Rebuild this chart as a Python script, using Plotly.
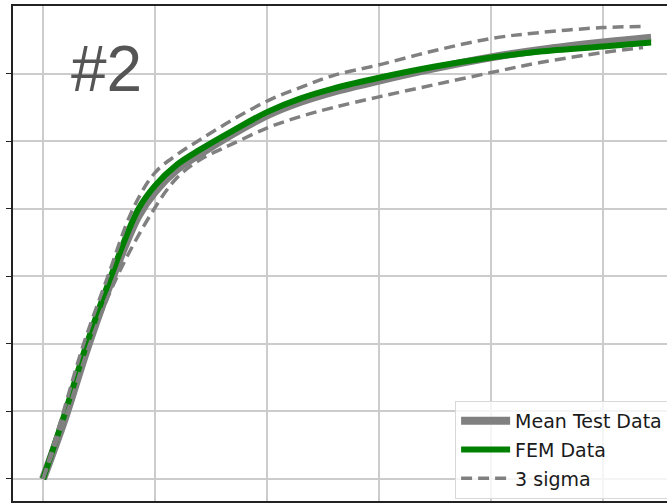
import plotly.graph_objects as go

# FEM data
fem_x = [0, 0.196, 0.384, 0.598, 0.848, 1.0, 1.196, 1.402, 1.696, 2.009, 2.295, 2.589, 3.009, 3.5, 4.0, 4.438, 5.0, 5.429]
fem_y = [0, 0.978, 1.970, 2.963, 3.985, 4.341, 4.652, 4.874, 5.156, 5.437, 5.630, 5.778, 5.941, 6.104, 6.237, 6.326, 6.400, 6.459]

# Mean test data
mean_x = [0, 0.196, 0.384, 0.598, 0.848, 1.0, 1.196, 1.402, 1.696, 2.009, 2.295, 2.589, 3.009, 3.5, 4.0, 4.438, 5.0, 5.429]
mean_y = [0, 0.90, 1.88, 2.88, 3.88, 4.25, 4.58, 4.81, 5.11, 5.39, 5.58, 5.73, 5.90, 6.08, 6.24, 6.35, 6.46, 6.53]

# 3 sigma bounds
up_x = [0, 0.179, 0.357, 0.571, 0.804, 1.0, 1.196, 1.402, 1.696, 2.009, 2.295, 2.589, 3.009, 3.5, 4.0, 4.438, 5.0, 5.357]
up_y = [0, 0.978, 1.970, 2.963, 4.0, 4.533, 4.80, 5.022, 5.319, 5.600, 5.793, 5.970, 6.133, 6.341, 6.519, 6.607, 6.681, 6.696]
lo_x = [0, 0.214, 0.411, 0.661, 0.982, 1.196, 1.402, 1.58, 1.696, 2.009, 2.295, 2.589, 3.009, 3.5, 4.0, 4.438, 5.0, 5.357]
lo_y = [0, 0.978, 1.970, 2.993, 3.970, 4.459, 4.726, 4.874, 4.963, 5.200, 5.363, 5.496, 5.659, 5.837, 6.015, 6.163, 6.311, 6.385]

x_ticks = [0, 1, 2, 3, 4, 5]
y_ticks = [0, 1, 2, 3, 4, 5, 6]

fig = go.Figure()
fig.add_trace(go.Scatter(x=mean_x, y=mean_y, mode="lines", name="Mean Test Data", legendgroup="a",
                         line=dict(color="#808080", width=8, shape="spline", smoothing=1.0)))
fig.add_trace(go.Scatter(x=fem_x, y=fem_y, mode="lines", name="FEM Data", legendgroup="b",
                         line=dict(color="#008000", width=6, shape="spline", smoothing=1.0)))
fig.add_trace(go.Scatter(x=up_x, y=up_y, mode="lines", name="3 sigma", legendgroup="c",
                         line=dict(color="#808080", width=3.5, dash="11px,6px", shape="spline", smoothing=1.0)))
fig.add_trace(go.Scatter(x=lo_x, y=lo_y, mode="lines", name="3 sigma", showlegend=False, legendgroup="c",
                         line=dict(color="#808080", width=3.5, dash="11px,6px", shape="spline", smoothing=1.0)))

fig.add_annotation(text="#2", x=0.57, y=6.07, xref="x", yref="y", showarrow=False,
                   font=dict(family="Liberation Sans, Arial", size=64, color="#555555"))

fig.update_layout(
    width=667, height=503,
    margin=dict(l=13, r=0, t=6, b=2, autoexpand=False),
    plot_bgcolor="white", paper_bgcolor="white",
    showlegend=True,
    legend=dict(x=0.676, y=0.202, xanchor="left", yanchor="top", tracegroupgap=1, itemwidth=49,
                bgcolor="rgba(255,255,255,0.8)", bordercolor="#d8d8d8", borderwidth=1,
                font=dict(family="DejaVu Sans", size=19, color="#1a1a1a")),
)
fig.update_xaxes(range=[-0.268, 5.571], tickvals=x_ticks, showticklabels=False, automargin=False,
                 showgrid=True, gridcolor="#cccccc", gridwidth=1.5, zeroline=False,
                 showline=True, linecolor="#222222", linewidth=1.5, mirror=True,
                 ticks="outside", ticklen=5, tickcolor="#222222")
fig.update_yaxes(range=[-0.326, 7.0], tickvals=y_ticks, showticklabels=False, automargin=False,
                 showgrid=True, gridcolor="#cccccc", gridwidth=1.5, zeroline=False,
                 showline=True, linecolor="#222222", linewidth=1.5, mirror=False,
                 ticks="outside", ticklen=5, tickcolor="#222222")

fig.write_html("out.html", config={"displayModeBar": False},
               post_script="document.body.style.margin='0';")
